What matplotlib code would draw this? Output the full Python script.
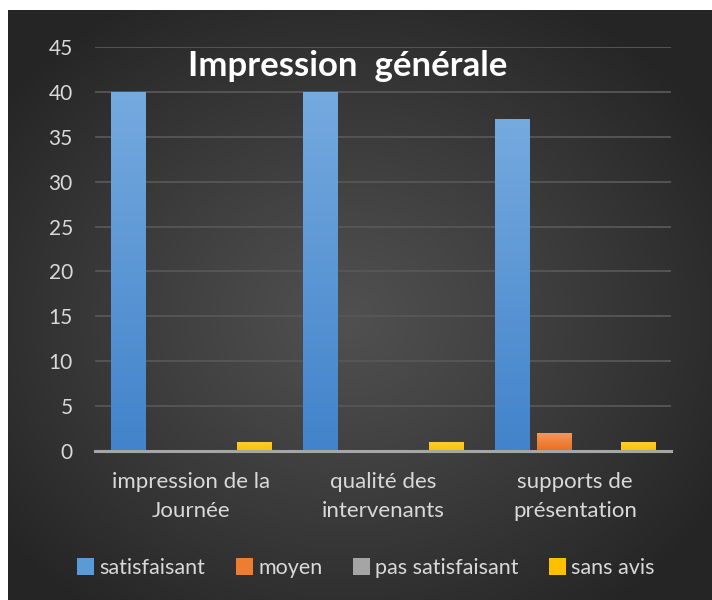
import numpy as np
import matplotlib
matplotlib.use("Agg")
import matplotlib.pyplot as plt
from matplotlib.patches import Patch
from matplotlib.colors import LinearSegmentedColormap

categories = ["impression de la\nJournée", "qualité des\nintervenants", "supports de\nprésentation"]
series_names = ["satisfaisant", "moyen", "pas satisfaisant", "sans avis"]
satisfaisant = [40, 40, 37]
moyen = [0, 0, 2]
pas_satisfaisant = [0, 0, 0]
sans_avis = [1, 1, 1]
yticks = [0, 5, 10, 15, 20, 25, 30, 35, 40, 45]
title = "Impression  générale"

series = [satisfaisant, moyen, pas_satisfaisant, sans_avis]
grad = [("#75aadf", "#4283cb"), ("#f5965c", "#e96e1e"), ("#b8b8b8", "#8c8c8c"), ("#ffcd30", "#ffbf00")]
solid = ["#5b9bd5", "#ed7d31", "#a5a5a5", "#ffc000"]

FONT = "Lato"
W, H = 712, 600
fig = plt.figure(figsize=(W / 100, H / 100), dpi=100, facecolor="white")

# background panel with radial gradient
bg = fig.add_axes([8 / W, 0, 1 - 8 / W, 1 - 10 / H])
bg.set_axis_off()
ny, nx = 300, 360
yy, xx = np.mgrid[0:ny, 0:nx]
cx, cy = nx * 0.48, ny * 0.52
r = np.sqrt(((xx - cx) / (nx * 0.62)) ** 2 + ((yy - cy) / (ny * 0.62)) ** 2)
r = np.clip(r, 0, 1)
v = (0x50 + (0x25 - 0x50) * r ** 1.1) / 255.0
img = np.dstack([v, v, v])
bg.imshow(img, aspect="auto", extent=[0, 1, 0, 1], interpolation="bilinear")
bg.set_xlim(0, 1)
bg.set_ylim(0, 1)

ax = fig.add_axes([95 / W, (H - 451) / H, 576 / W, 404 / H])
ax.patch.set_alpha(0)
x = np.arange(len(categories))
bw = 35 / 192
step = 42 / 192
offsets = (np.arange(4) - 1.5) * step
for i, (vals, (ct, cb)) in enumerate(zip(series, grad)):
    bars = ax.bar(x + offsets[i], vals, width=bw, color=solid[i], zorder=3, linewidth=0)
    cmap = LinearSegmentedColormap.from_list("g%d" % i, [cb, ct])
    for b in bars:
        h = b.get_height()
        if h <= 0:
            continue
        x0 = b.get_x()
        gimg = ax.imshow(np.linspace(0, 1, 100).reshape(-1, 1), cmap=cmap, origin="lower",
                         extent=[x0, x0 + b.get_width(), 0, h], aspect="auto", zorder=3.5)
        gimg.set_clip_path(b)

ax.set_xlim(-0.5, 2.5)
ax.set_ylim(0, 45)
ax.set_yticks(yticks)
ax.yaxis.grid(True, color="#575757", linewidth=1.3, zorder=1)
ax.set_axisbelow(True)
for s in ["top", "right", "left"]:
    ax.spines[s].set_visible(False)
ax.spines["bottom"].set_color("#a6a6a6")
ax.spines["bottom"].set_linewidth(2.2)
ax.spines["bottom"].set_zorder(5)
ax.tick_params(axis="both", length=0, colors="#d9d9d9")
ax.set_yticklabels([str(t) for t in yticks], fontsize=15, family=FONT, color="#d9d9d9")
ax.tick_params(axis="y", pad=16)
ax.set_xticks(x)
ax.set_xticklabels(categories, fontsize=16, family=FONT, color="#d9d9d9", linespacing=1.55)
ax.tick_params(axis="x", pad=15)

fig.text(348 / W, (H - 76) / H, title, ha="center", va="baseline", fontsize=25,
         fontweight="bold", family=FONT, color="white")

handles = [Patch(facecolor=c, edgecolor="none") for c in solid]
leg = fig.legend(handles, series_names, loc="center", bbox_to_anchor=(366 / W, (H - 568) / H),
                 ncol=4, frameon=False, prop={"family": FONT, "size": 15.5},
                 handlelength=0.8, handleheight=0.8, handletextpad=0.25, columnspacing=1.4)
for t in leg.get_texts():
    t.set_color("#d9d9d9")

fig.savefig("out.png", dpi=100, facecolor="white")
